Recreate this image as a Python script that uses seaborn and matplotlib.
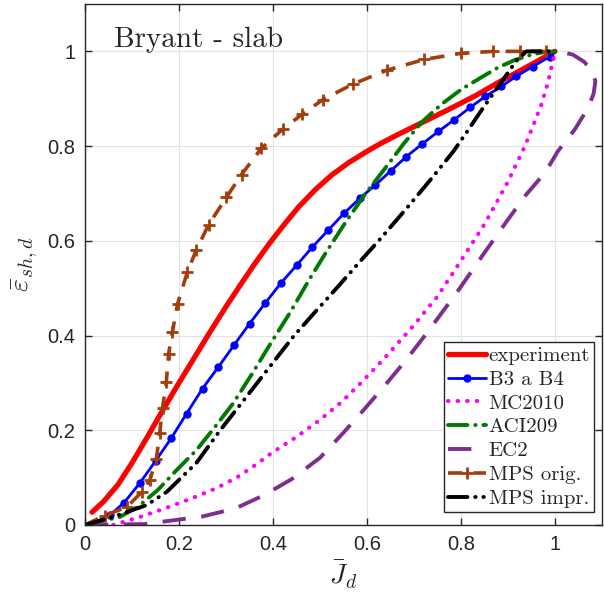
import numpy as np
import pandas as pd
import matplotlib
matplotlib.use('Agg')
import matplotlib.pyplot as plt
import seaborn as sns

# --- data ---
exp_x = [0.015, 0.04, 0.07, 0.10, 0.131, 0.16, 0.195, 0.23, 0.265, 0.30, 0.328, 0.36, 0.392,
         0.425, 0.455, 0.49, 0.525, 0.561, 0.60, 0.63, 0.667, 0.72, 0.773, 0.83, 0.879, 0.94, 1.0]
exp_y = [0.027, 0.050, 0.085, 0.131, 0.183, 0.233, 0.292, 0.349, 0.406, 0.461, 0.503, 0.550, 0.594,
         0.636, 0.672, 0.708, 0.739, 0.765, 0.789, 0.806, 0.825, 0.851, 0.877, 0.906, 0.934, 0.967, 1.0]

b3_x = [0.020, 0.053, 0.083, 0.117, 0.150, 0.184, 0.216, 0.250, 0.284, 0.318, 0.350, 0.383,
        0.417, 0.450, 0.483, 0.517, 0.551, 0.585, 0.618, 0.651, 0.684, 0.718, 0.752, 0.786,
        0.820, 0.852, 0.886, 0.917, 0.953, 0.989]
b3_y = [0.005, 0.021, 0.047, 0.089, 0.135, 0.184, 0.235, 0.288, 0.334, 0.381, 0.425, 0.468,
        0.511, 0.548, 0.586, 0.622, 0.658, 0.690, 0.718, 0.748, 0.778, 0.805, 0.831, 0.856,
        0.882, 0.905, 0.926, 0.947, 0.968, 0.989]

mc_x = [0.06, 0.117, 0.17, 0.229, 0.28, 0.324, 0.36, 0.40, 0.45, 0.50, 0.545, 0.587, 0.636,
        0.693, 0.748, 0.788, 0.85, 0.90, 0.936, 0.97, 0.985, 1.0]
mc_y = [0.0, 0.017, 0.035, 0.057, 0.078, 0.101, 0.125, 0.154, 0.186, 0.222, 0.259, 0.300, 0.351,
        0.414, 0.480, 0.540, 0.635, 0.725, 0.800, 0.885, 0.934, 1.0]

aci_x = [0.0, 0.074, 0.112, 0.155, 0.195, 0.237, 0.275, 0.316, 0.356, 0.396, 0.436, 0.477, 0.515,
         0.557, 0.597, 0.640, 0.678, 0.716, 0.758, 0.801, 0.843, 0.879, 0.915, 0.950, 0.979, 1.0]
aci_y = [0.0, 0.017, 0.038, 0.074, 0.116, 0.158, 0.205, 0.258, 0.320, 0.385, 0.448, 0.518, 0.579,
         0.643, 0.700, 0.755, 0.805, 0.850, 0.888, 0.920, 0.945, 0.966, 0.982, 0.993, 0.999, 1.0]

ec2_x = [0.0, 0.127, 0.25, 0.32, 0.381, 0.44, 0.50, 0.55, 0.593, 0.64, 0.682, 0.731, 0.794,
         0.85, 0.90, 0.939, 0.979, 1.006, 1.042, 1.07, 1.082, 1.086, 1.078, 1.062, 1.038, 1.002]
ec2_y = [0.0, 0.002, 0.018, 0.035, 0.063, 0.097, 0.142, 0.195, 0.243, 0.297, 0.347, 0.410, 0.495,
         0.575, 0.645, 0.698, 0.744, 0.789, 0.835, 0.880, 0.910, 0.937, 0.960, 0.978, 0.993, 1.002]

mps_x = [0.0, 0.042, 0.089, 0.121, 0.138, 0.152, 0.159, 0.165, 0.173, 0.178, 0.186, 0.197,
         0.218, 0.237, 0.263, 0.301, 0.333, 0.375, 0.422, 0.462, 0.506, 0.570, 0.642, 0.722,
         0.801, 0.869, 0.926, 0.981, 1.0]
mps_y = [0.0, 0.020, 0.038, 0.070, 0.095, 0.140, 0.195, 0.247, 0.302, 0.362, 0.408, 0.467,
         0.535, 0.581, 0.634, 0.692, 0.740, 0.795, 0.837, 0.867, 0.898, 0.931, 0.960, 0.983,
         0.996, 1.0, 1.0, 1.0, 1.0]

imp_x = [0.0, 0.059, 0.131, 0.174, 0.237, 0.286, 0.339, 0.40, 0.445, 0.498, 0.538, 0.583,
         0.631, 0.682, 0.731, 0.784, 0.816, 0.841, 0.890, 0.917, 0.939, 1.0]
imp_y = [0.0, 0.017, 0.042, 0.070, 0.131, 0.198, 0.265, 0.343, 0.400, 0.459, 0.503, 0.554,
         0.607, 0.666, 0.724, 0.789, 0.835, 0.872, 0.941, 0.979, 1.0, 1.0]

x_ticks = [0, 0.2, 0.4, 0.6, 0.8, 1]
x_ticklabels = ['0', '0.2', '0.4', '0.6', '0.8', '1']
y_ticks = [0, 0.2, 0.4, 0.6, 0.8, 1]
y_ticklabels = ['0', '0.2', '0.4', '0.6', '0.8', '1']

sns.set_style('white')
plt.rcParams['font.family'] = ['Liberation Sans', 'DejaVu Sans']
plt.rcParams['mathtext.fontset'] = 'cm'

fig = plt.figure(figsize=(6.04, 6.04), dpi=100)
ax = fig.add_axes([85 / 604, 79 / 604, 517 / 604, 521 / 604])

ax.grid(True, color='#e3e3e3', linewidth=0.8)
ax.set_axisbelow(True)

# curves
sns.lineplot(x=exp_x, y=exp_y, ax=ax, color='#ff0000', linewidth=3.8,
             label='experiment', sort=False, estimator=None)
sns.lineplot(x=b3_x + [1.0], y=b3_y + [1.0], ax=ax, color='#0000ff', linewidth=2.0,
             marker='o', markersize=6, markeredgewidth=0, label='B3 a B4',
             sort=False, estimator=None, markevery=list(range(len(b3_x))))
sns.lineplot(x=mc_x, y=mc_y, ax=ax, color='#ff00ff', linewidth=3.0,
             linestyle=(0, (0.1, 2.2)), dash_capstyle='round', label='MC2010',
             sort=False, estimator=None)
sns.lineplot(x=aci_x, y=aci_y, ax=ax, color='#007a00', linewidth=2.8,
             linestyle=(0, (5, 2, 0.1, 2)), dash_capstyle='round', label='ACI209',
             sort=False, estimator=None)
sns.lineplot(x=ec2_x, y=ec2_y, ax=ax, color='#7e2f8e', linewidth=2.8,
             linestyle=(0, (6, 4)), label='EC2', sort=False, estimator=None)
sns.lineplot(x=mps_x, y=mps_y, ax=ax, color='#a33d0c', linewidth=2.6,
             linestyle=(0, (4, 3)), marker='+', markersize=8, markeredgewidth=2.0,
             markeredgecolor='#a33d0c', label='MPS orig.', sort=False, estimator=None,
             markevery=list(range(1, len(mps_x) - 1)))
sns.lineplot(x=imp_x, y=imp_y, ax=ax, color='#000000', linewidth=2.8,
             linestyle=(0, (5, 2, 0.1, 2, 0.1, 2)), dash_capstyle='round',
             label='MPS impr.', sort=False, estimator=None)

ax.set_xlim(0, 1.1)
ax.set_ylim(0, 1.1)
ax.set_xticks(x_ticks)
ax.set_xticklabels(x_ticklabels)
ax.set_yticks(y_ticks)
ax.set_yticklabels(y_ticklabels)
ax.tick_params(direction='in', length=5, width=1, labelsize=14.5, colors='#262626',
               top=True, right=True, bottom=True, left=True, pad=7)
for s in ax.spines.values():
    s.set_visible(True)
    s.set_color('#262626')
    s.set_linewidth(1)

ax.set_xlabel(r'$\bar{J}_d$', fontsize=20, labelpad=4)
ax.set_ylabel(r'$\bar{\varepsilon}_{sh,d}$', fontsize=20, labelpad=6)

ax.text(0.062, 1.025, 'Bryant - slab', family='cmr10', fontsize=21, va='center', ha='left')

leg = ax.legend(loc='lower right', bbox_to_anchor=(0.985, 0.025), frameon=True,
                fancybox=False, framealpha=1, edgecolor='#262626',
                prop={'family': 'cmr10', 'size': 15}, handlelength=1.8,
                handletextpad=0.15, labelspacing=0.25, borderpad=0.2, borderaxespad=0)
leg.get_frame().set_linewidth(1)

fig.savefig('out.png', dpi=100)
